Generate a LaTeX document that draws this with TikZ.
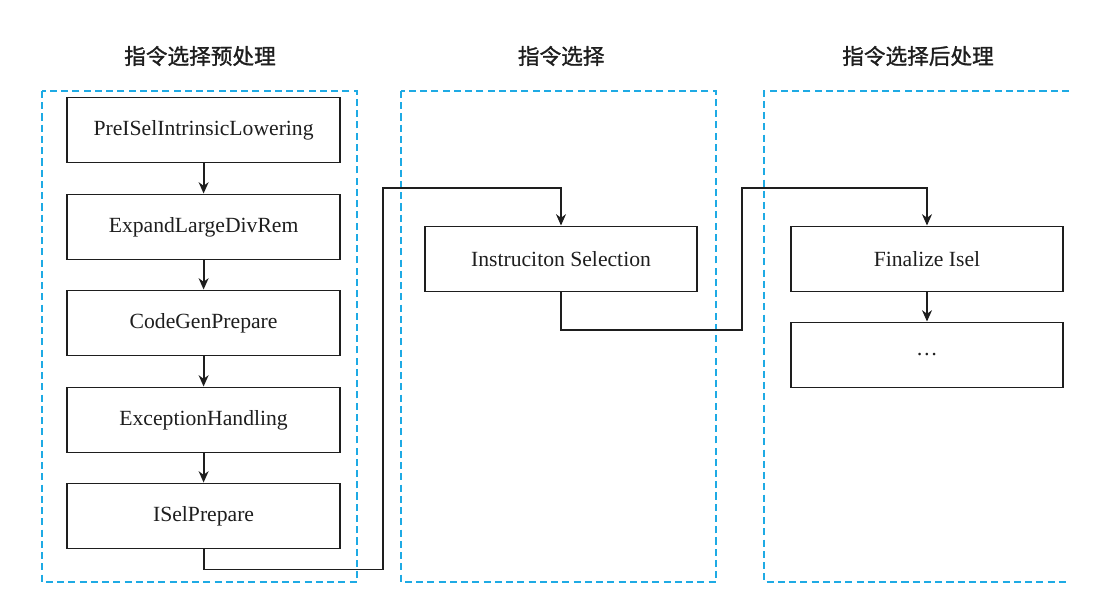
\documentclass[tikz,border=0pt]{standalone}
\usepackage{fontspec}
\setmainfont{Liberation Serif}
\newfontfamily\cjk[FakeBold=1.2]{Noto Sans CJK SC}
\usetikzlibrary{positioning,calc,arrows,arrows.meta}
\definecolor{groupblue}{RGB}{30,170,228}
\definecolor{ink}{RGB}{30,30,30}
\tikzset{font=\fontsize{15.4}{18}\selectfont}

\begin{document}
\begin{tikzpicture}[color=ink]
	\useasboundingbox (0,0) rectangle (27.975,-14.95);
	\begin{scope}
		\tikzstyle{every node}=[align=center, inner sep=1pt]
		\tikzstyle{pass}=[draw, line width=1.4pt, minimum width=6.825cm, minimum height=1.625cm]
		\tikzstyle{group}=[draw=groupblue, line width=1.3pt, dash pattern=on 5pt off 3pt]
		\tikzstyle{flow}=[->, >={Stealth[length=8pt, width=7pt, inset=2.5pt]}, line width=1.3pt]

		% group titles
		\node (t1) at (5.0, -1.4) {\cjk 指令选择预处理};
		\node (t2) at (14.03, -1.4) {\cjk 指令选择};
		\node (t3) at (22.95, -1.4) {\cjk 指令选择后处理};

		% dashed groups
		\draw[group] (1.05, -2.275) rectangle (8.925, -14.55);
		\draw[group] (10.025, -2.275) rectangle (17.9, -14.55);
		\draw[group] (26.725, -2.275) -- (19.1, -2.275) -- (19.1, -14.55) -- (26.725, -14.55);

		\node[pass] (lower) at (5.09, -3.25) {PreISelIntrinsicLowering};
		\node[pass] (divrem) at (5.09, -5.675) {ExpandLargeDivRem};
		\node[pass] (cgp) at (5.09, -8.075) {CodeGenPrepare};
		\node[pass] (eh) at (5.09, -10.5) {ExceptionHandling};
		\node[pass] (isel) at (5.09, -12.9) {ISelPrepare};

		\node[pass, minimum width=6.8cm] (inst) at (14.025, -6.475) {Instruciton Selection};

		\node[pass, minimum width=6.8cm] (fin) at (23.175, -6.475) {Finalize Isel};
		\node[pass, minimum width=6.8cm] (more) at (23.175, -8.875) {\dots};

		\coordinate (up1) at (9.575, -4.7);
		\coordinate (up2) at (18.55, -4.7);

		\draw[flow](lower) -- (divrem);
		\draw[flow](divrem) -- (cgp);
		\draw[flow](cgp) -- (eh);
		\draw[flow](eh) -- (isel);

		\draw[flow](isel.south) -- ++(0, -0.5) -| (up1) -| (inst.north);
		\draw[flow](inst.south) -- ++(0, -0.94) -| (up2) -| (fin.north);
		\draw[flow](fin) -- (more);
	\end{scope}
\end{tikzpicture}
\end{document}
